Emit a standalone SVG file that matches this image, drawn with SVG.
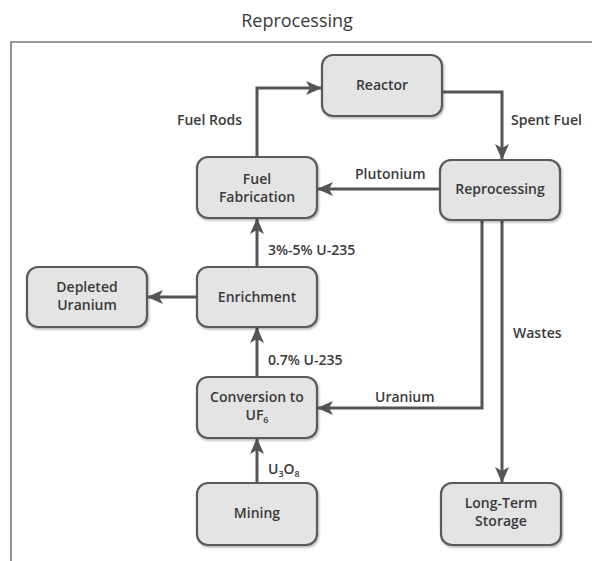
<svg xmlns="http://www.w3.org/2000/svg" width="592" height="561" viewBox="0 0 592 561">
<style>
.box{fill:#e4e4e4;stroke:#5a5a5a;stroke-width:2.2}
.nt{font-family:"Open Sans","Noto Sans",sans-serif;font-size:14px;font-weight:600;fill:#3a3a3a;text-anchor:middle}
.et{font-family:"Open Sans","Noto Sans",sans-serif;font-size:14px;font-weight:600;fill:#3a3a3a}
.ln{fill:none;stroke:#555;stroke-width:3;marker-end:url(#ah)}
.ln2{fill:none;stroke:#555;stroke-width:3}
</style>
<defs>
<marker id="ah" markerUnits="userSpaceOnUse" markerWidth="16" markerHeight="14" refX="16" refY="7" orient="auto">
<path d="M0,0 L16,7 L0,14 L4,7 z" fill="#555"/>
</marker>
<filter id="sh" x="-10%" y="-10%" width="130%" height="130%">
<feDropShadow dx="1" dy="1.5" stdDeviation="1" flood-color="#000" flood-opacity="0.3"/>
</filter>
</defs>
<rect width="592" height="561" fill="#fff"/>
<text x="297" y="27" font-family="'Open Sans','Noto Sans',sans-serif" font-size="18" fill="#3a3a3a" text-anchor="middle">Reprocessing</text>
<path d="M11,561 V42 H592" fill="none" stroke="#777" stroke-width="1.6"/>
<g id="connectors">
<path class="ln" d="M257,157 V88 H322"/>
<path class="ln" d="M442,92 H502 V160"/>
<path class="ln" d="M440,189 H317"/>
<path class="ln" d="M257,267 V218"/>
<path class="ln" d="M197,297 H147"/>
<path class="ln" d="M257,377 V327"/>
<path class="ln" d="M482,220 V408 H317"/>
<path class="ln" d="M257,483 V438"/>
<path class="ln" d="M502,220 V483"/>
<text class="et" x="177" y="125">Fuel Rods</text>
<text class="et" x="511" y="125">Spent Fuel</text>
<text class="et" x="355" y="179">Plutonium</text>
<text class="et" x="268" y="255">3%-5% U-235</text>
<text class="et" x="268" y="365">0.7% U-235</text>
<text class="et" x="375" y="402">Uranium</text>
<text class="et" x="268" y="474">U<tspan font-size="9" dy="3">3</tspan><tspan dy="-3">O</tspan><tspan font-size="9" dy="3">8</tspan></text>
<text class="et" x="513" y="338">Wastes</text>
</g>
<g id="reactor"><rect class="box" filter="url(#sh)" x="322" y="55" width="120" height="61" rx="11"/><text class="nt" x="382" y="90">Reactor</text></g>
<g id="fuel-fabrication"><rect class="box" filter="url(#sh)" x="197" y="157" width="120" height="61" rx="11"/><text class="nt" x="257" y="184">Fuel</text><text class="nt" x="257" y="202">Fabrication</text></g>
<g id="reprocessing"><rect class="box" filter="url(#sh)" x="440" y="160" width="120" height="60" rx="11"/><text class="nt" x="500" y="194">Reprocessing</text></g>
<g id="depleted-uranium"><rect class="box" filter="url(#sh)" x="27" y="267" width="120" height="60" rx="11"/><text class="nt" x="87" y="292">Depleted</text><text class="nt" x="87" y="310">Uranium</text></g>
<g id="enrichment"><rect class="box" filter="url(#sh)" x="197" y="267" width="120" height="60" rx="11"/><text class="nt" x="257" y="302">Enrichment</text></g>
<g id="conversion"><rect class="box" filter="url(#sh)" x="197" y="377" width="120" height="61" rx="11"/><text class="nt" x="257" y="402">Conversion to</text><text class="nt" x="257" y="420">UF<tspan font-size="9" dy="3">6</tspan></text></g>
<g id="mining"><rect class="box" filter="url(#sh)" x="197" y="483" width="120" height="62" rx="11"/><text class="nt" x="257" y="518">Mining</text></g>
<g id="long-term-storage"><rect class="box" filter="url(#sh)" x="441" y="483" width="120" height="62" rx="11"/><text class="nt" x="501" y="508">Long-Term</text><text class="nt" x="501" y="526">Storage</text></g>
</svg>
